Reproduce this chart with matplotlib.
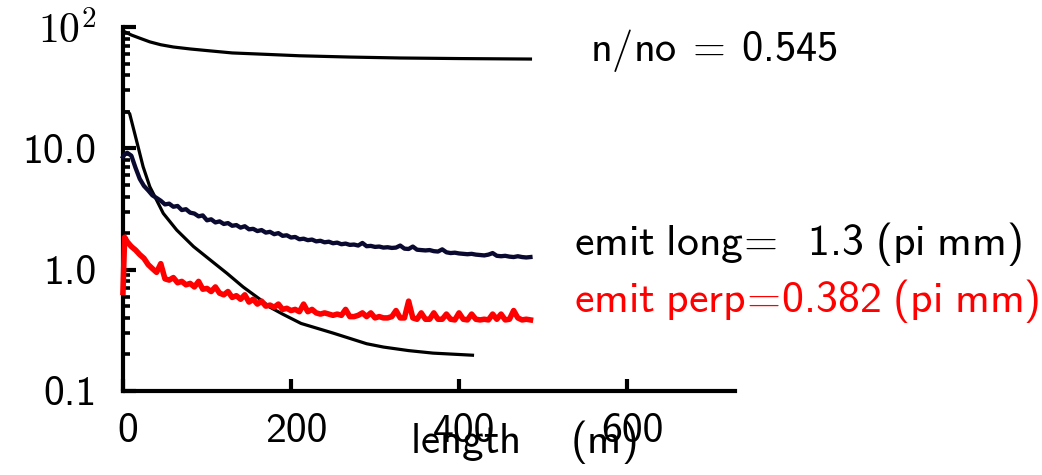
import matplotlib
matplotlib.use("Agg")
import matplotlib.pyplot as plt
from matplotlib.ticker import LogLocator, NullFormatter, FixedLocator
from matplotlib.transforms import ScaledTranslation

plt.rcParams["mathtext.fontset"] = "cm"
plt.rcParams["mathtext.rm"] = "cmr10"
plt.rcParams["mathtext.sf"] = "cmss10"
plt.rcParams["mathtext.it"] = "cmss10"
plt.rcParams["font.family"] = ["cmss10", "DejaVu Sans"]

# ---- data ---------------------------------------------------------------
# surviving particles (percent) along the line
n_dist = [0, 5, 10, 20, 32, 45, 60, 80, 100, 130, 170, 210, 270, 330, 400, 485]
n_vals = [93, 89.5, 86, 81, 75.5, 71.5, 68.5, 66, 64, 61.2, 59.6, 58, 56.6,
          55.6, 55.0, 54.5]

# smooth reference decay curve
ref_dist = [3, 6, 8, 16, 24, 32, 40, 48, 64, 84, 104, 124, 143, 163, 175,
            190, 212, 250, 290, 310, 340, 369, 416]
ref_vals = [20.0, 20.0, 19.3, 11.7, 7.05, 4.82, 3.75, 2.91, 2.12, 1.55, 1.20,
            0.93, 0.72, 0.57, 0.49, 0.43, 0.36, 0.30, 0.245, 0.23, 0.215,
            0.205, 0.197]

# sampled emittances
emit_dist = [0, 2, 5, 10, 15, 20, 25, 30, 35, 40, 45, 50, 55, 60, 65, 70, 75,
             80, 85, 90, 95, 100, 105, 110, 115, 120, 125, 130, 135, 140, 145,
             150, 155, 160, 165, 170, 175, 180, 185, 190, 195, 200, 205, 210,
             215, 220, 225, 230, 235, 240, 245, 250, 255, 260, 265, 270, 275,
             280, 285, 290, 295, 300, 305, 310, 315, 320, 325, 330, 335, 340,
             345, 350, 355, 360, 365, 370, 375, 380, 385, 390, 395, 400, 405,
             410, 415, 420, 425, 430, 435, 440, 445, 450, 455, 460, 465, 470,
             475, 480, 485]

emit_long = [8.5, 8.9, 9.2, 8.7, 6.9, 5.6, 4.9, 4.5, 4.1, 3.9, 3.7, 3.45, 3.5,
             3.3, 3.35, 3.1, 3.15, 2.95, 2.9, 2.75, 2.8, 2.55, 2.6, 2.45, 2.5,
             2.38, 2.42, 2.3, 2.33, 2.22, 2.28, 2.15, 2.17, 2.08, 2.12, 2.02,
             2.05, 1.96, 2.0, 1.9, 1.92, 1.84, 1.86, 1.78, 1.80, 1.75, 1.77,
             1.71, 1.73, 1.68, 1.70, 1.65, 1.67, 1.62, 1.64, 1.60, 1.61, 1.58,
             1.66, 1.56, 1.57, 1.54, 1.55, 1.52, 1.53, 1.51, 1.52, 1.58, 1.49,
             1.48, 1.55, 1.46, 1.45, 1.44, 1.45, 1.42, 1.41, 1.47, 1.39, 1.37,
             1.38, 1.36, 1.35, 1.34, 1.35, 1.33, 1.32, 1.31, 1.33, 1.37, 1.30,
             1.29, 1.30, 1.28, 1.27, 1.29, 1.27, 1.26, 1.27]

emit_perp = [0.65, 1.85, 1.70, 1.55, 1.45, 1.33, 1.24, 1.10, 1.02, 0.95, 1.12,
             0.84, 0.82, 0.86, 0.78, 0.80, 0.75, 0.77, 0.72, 0.80, 0.69, 0.70,
             0.66, 0.72, 0.64, 0.62, 0.66, 0.59, 0.61, 0.57, 0.62, 0.54, 0.57,
             0.52, 0.55, 0.50, 0.51, 0.49, 0.52, 0.47, 0.48, 0.46, 0.47, 0.45,
             0.52, 0.45, 0.47, 0.44, 0.43, 0.44, 0.43, 0.42, 0.43, 0.42, 0.47,
             0.41, 0.41, 0.42, 0.44, 0.41, 0.44, 0.40, 0.41, 0.40, 0.40, 0.41,
             0.46, 0.40, 0.40, 0.55, 0.40, 0.39, 0.44, 0.39, 0.39, 0.44, 0.39,
             0.39, 0.43, 0.39, 0.385, 0.44, 0.39, 0.385, 0.43, 0.39, 0.385,
             0.39, 0.385, 0.43, 0.39, 0.43, 0.385, 0.39, 0.46, 0.40, 0.385,
             0.39, 0.385]

x_ticks = [0, 200, 400, 600]
x_tick_labels = ["0", "200", "400", "600"]
y_ticks = [0.1, 1.0, 10.0, 100.0]
y_tick_labels = ["0.1", "1.0", "10.0", r"$10^2$"]

ratio_text = r"$\mathsf{n}/\mathsf{no}\;=\;\mathsf{0.545}$"
long_text = r"$\mathsf{emit\ long}\!=\ \ \mathsf{1.3\ (pi\ mm)}$"
perp_text = r"$\mathsf{emit\ perp}\!=\!\mathsf{0.382\ (pi\ mm)}$"
x_label = r"$\mathsf{length}\quad\;\,\mathsf{(m)}$"

# ---- figure -------------------------------------------------------------
fig = plt.figure(figsize=(10.42, 4.75), dpi=100)
ax = fig.add_axes([0.118, 0.177, 0.587, 0.766])

ax.plot(n_dist, n_vals, color="black", lw=2.3, zorder=4, clip_on=False)
ax.plot(ref_dist, ref_vals, color="black", lw=2.3, zorder=4, clip_on=False)
ax.plot(emit_dist, emit_long, color="#0a0a30", lw=3.1, zorder=5,
        clip_on=False, solid_joinstyle="round")
ax.plot(emit_dist, emit_perp, color="#ff0000", lw=4.0, zorder=6,
        clip_on=False, solid_joinstyle="round")

ax.set_yscale("log")
ax.set_xlim(0, 728)
ax.set_ylim(0.1, 100)

for side in ("top", "right"):
    ax.spines[side].set_visible(False)
for side in ("left", "bottom"):
    ax.spines[side].set_linewidth(3.0)

ax.xaxis.set_major_locator(FixedLocator(x_ticks))
ax.set_xticklabels(x_tick_labels)
ax.xaxis.set_minor_locator(FixedLocator([]))
ax.yaxis.set_major_locator(FixedLocator(y_ticks))
ax.set_yticklabels(y_tick_labels)
ax.yaxis.set_minor_locator(LogLocator(base=10, subs=range(2, 10)))
ax.yaxis.set_minor_formatter(NullFormatter())

ax.tick_params(axis="x", which="major", direction="in", length=9, width=3,
               pad=16, labelsize=30)
ax.tick_params(axis="y", which="major", direction="in", length=9, width=3,
               pad=19, labelsize=30)
ax.tick_params(axis="y", which="minor", direction="in", length=5, width=2.6)

shift = ScaledTranslation(0.05, 0, fig.dpi_scale_trans)
for lab in ax.get_xticklabels():
    lab.set_transform(lab.get_transform() + shift)

ax.set_xlabel(x_label, fontsize=31, math_fontfamily="custom")
ax.xaxis.set_label_coords(0.655, -0.075)

fig.text(0.566, 0.872, ratio_text, fontsize=30.5, va="baseline", ha="left",
         math_fontfamily="custom")
fig.text(0.551, 0.463, long_text, fontsize=31.5, va="baseline", ha="left",
         color="black", math_fontfamily="custom")
fig.text(0.551, 0.343, perp_text, fontsize=31.5, va="baseline", ha="left",
         color="#ff0000", math_fontfamily="custom")

fig.savefig("out.png", dpi=100)
